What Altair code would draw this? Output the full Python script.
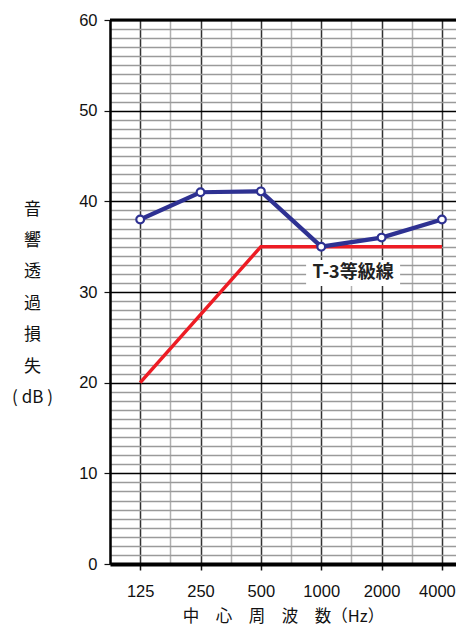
import altair as alt
import pandas as pd
import math

# ---- data ----
freqs = [125, 250, 500, 1000, 2000, 4000]
freq_labels = ["125", "250", "500", "1000", "2000", "4000"]
measured = [38, 41, 41.1, 35, 36, 38]
t3_freqs = [125, 500, 4000]
t3_values = [20, 35, 35]
label_text = ["T-3等級線"]
label_freq = [1442]      # between 1000 and 2000
label_db = [32.1]
y_max = 60
y_title = ["音", "響", "透", "過", "損", "失", "( dB )"]
x_title = "中　心　周　波　数（Hz）"

def pos(f):
    return math.log2(f / 125)

blue_df = pd.DataFrame({"x": [pos(f) for f in freqs], "y": measured})
red_df = pd.DataFrame({"x": [pos(f) for f in t3_freqs], "y": t3_values})
lab_df = pd.DataFrame({"x": [pos(f) for f in label_freq], "y": label_db, "t": label_text})

NAVY = "#2e3192"
RED = "#ed1c24"
FONT = "Liberation Sans"
JFONT = "Noto Sans CJK JP"

x_vals = [i * 0.5 for i in range(-1, 11)]
last_pos = len(freqs) - 1
lab_arr = "[" + ",".join("'" + s + "'" for s in freq_labels) + "]"

xscale = alt.Scale(domain=[-0.5, 5.233], nice=False, zero=False)
yscale = alt.Scale(domain=[0, y_max], nice=False)

xaxis = alt.Axis(
    values=x_vals,
    labelExpr="datum.value % 1 === 0 ? " + lab_arr + "[datum.value] : ''",
    labelOverlap=False,
    labelFont=FONT, labelFontSize=16.5, labelColor="#111",
    labelPadding=13,
    labelOffset={"condition": {"test": "datum.value === %d" % last_pos, "value": -5}, "value": 0},
    tickSize=6, tickWidth=1.5,
    tickColor=alt.expr("datum.value % 1 === 0 ? '#111' : 'transparent'"),
    grid=True,
    gridColor=alt.expr("datum.value % 1 === 0 ? '#333' : '#b0b0b0'"),
    gridWidth=1.5,
    domainColor="#000", domainWidth=4,
    title=x_title, titleFont=JFONT, titleFontSize=16.5, titleFontWeight="normal",
    titleColor="#111", titlePadding=9,
)
yaxis = alt.Axis(
    values=list(range(0, y_max + 1)),
    labelExpr="datum.value % 10 === 0 ? datum.value : ''",
    labelOverlap=False,
    labelFont=FONT, labelFontSize=16.5, labelColor="#111",
    labelPadding=7,
    tickSize=6, tickWidth=1.2,
    tickColor=alt.expr("datum.value % 10 === 0 ? '#111' : 'transparent'"),
    grid=True,
    gridColor=alt.expr("datum.value % 10 === 0 ? '#000' : '#9a9a9a'"),
    gridWidth=1.3,
    domainColor="#000", domainWidth=2.5,
    title=y_title, titleFont=JFONT, titleFontSize=17, titleFontWeight="normal",
    titleColor="#111", titleAngle=0, titleAlign="center", titleBaseline="top",
    titleX=-78, titleY=181, titleLineHeight=31.4,
)

base_x = alt.X("x:Q", scale=xscale, axis=xaxis)
base_y = alt.Y("y:Q", scale=yscale, axis=yaxis)

red = alt.Chart(red_df).mark_line(color=RED, strokeWidth=3.5).encode(x=base_x, y=base_y)
blue = alt.Chart(blue_df).mark_line(color=NAVY, strokeWidth=4.2).encode(x=base_x, y=base_y)
pts = alt.Chart(blue_df).mark_point(
    shape="circle", filled=True, fill="white", stroke=NAVY, strokeWidth=2.2, size=60, opacity=1
).encode(x=base_x, y=base_y)
box = alt.Chart(lab_df).mark_rect(width=94, height=26, color="white").encode(x=base_x, y=base_y)
txt = alt.Chart(lab_df).mark_text(
    font=JFONT, fontSize=18, fontWeight="bold", color="#222", align="center", baseline="middle"
).encode(x=base_x, y=base_y, text="t:N")
top = alt.Chart(pd.DataFrame({"v": [y_max]})).mark_rule(color="#000", strokeWidth=3).encode(
    y=alt.Y("v:Q", scale=yscale, axis=yaxis)
)

chart = alt.layer(red, blue, pts, box, txt, top).properties(
    width=346, height=544,
    autosize=alt.AutoSizeParams(type="none"),
    padding={"left": 102, "top": 12, "right": 0, "bottom": 62},
).configure_view(stroke=None)

chart.save("out.html", embed_options={"renderer": "svg", "actions": False})
